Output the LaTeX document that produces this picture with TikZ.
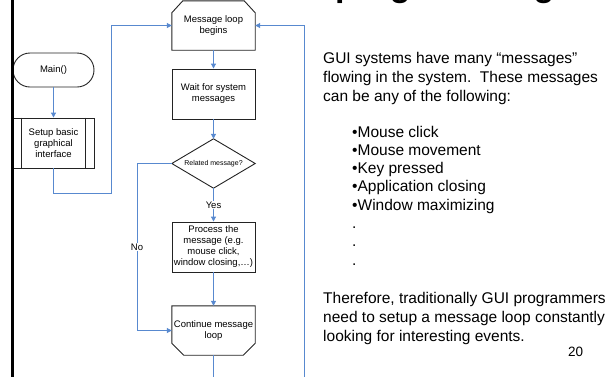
\documentclass[tikz,border=0pt]{standalone}
\usepackage{fontspec}
\setmainfont{Liberation Sans}
\usetikzlibrary{arrows.meta,calc}
\definecolor{conn}{RGB}{88,137,207}
\definecolor{edge}{RGB}{35,35,35}
\begin{document}
\begin{tikzpicture}[x=1pt,y=-1pt,
  flow/.style={inner sep=0pt, align=center, font=\fontsize{9.5}{11}\selectfont, minimum width=83pt, minimum height=49pt},
  outline/.style={draw=edge, line width=0.9pt},
  link/.style={draw=conn, line width=1pt},
  arrowlink/.style={link, -{Triangle[length=5pt,width=5pt]}},
  lbl/.style={fill=white, inner sep=1pt, font=\fontsize{9.5}{11}\selectfont},
  body/.style={anchor=base west, inner sep=0pt, font=\fontsize{15.5}{19}\selectfont}
]
\useasboundingbox (0,0) rectangle (610,376);
\clip (0,0) rectangle (610,376);

% title fragment (cut off at top)
\node[anchor=base west, inner sep=0pt, font=\fontsize{34}{40}\selectfont\bfseries] (title) at (335,-4) {programming};

% flowchart shapes
\node[flow, outline, rounded corners=17pt, minimum width=81pt, minimum height=34pt] (main) at (53.5,70) {Main()};
\node[flow, outline, minimum width=81pt, minimum height=50pt] (setup) at (53.5,143) {Setup basic\\graphical\\interface};
\draw[outline] ([xshift=9pt]setup.north west) -- ([xshift=9pt]setup.south west);
\draw[outline] ([xshift=-9pt]setup.north east) -- ([xshift=-9pt]setup.south east);

\node[flow] (loop) at (213.5,25.5) {Message loop\\begins};
\draw[outline] ([yshift=-12pt]loop.north west) -- ([xshift=11pt]loop.north west) -- ([xshift=-11pt]loop.north east) -- ([yshift=-12pt]loop.north east) -- (loop.south east) -- (loop.south west) -- cycle;

\node[flow, outline, minimum height=50pt] (wait) at (213.5,94) {Wait for system\\messages};

\node[flow, font=\fontsize{7}{8}\selectfont] (dia) at (213.5,163.5) {Related message?};
\draw[outline] (dia.north) -- (dia.east) -- (dia.south) -- (dia.west) -- cycle;

\node[flow, outline, minimum height=50pt] (proc) at (213.5,247) {Process the\\message (e.g.\\mouse click,\\window closing,…)};

\node[flow] (cont) at (213.5,330.5) {Continue message\\loop};
\draw[outline] (cont.north west) -- (cont.north east) -- ([yshift=12pt]cont.south east) -- ([xshift=-12pt]cont.south east) -- ([xshift=12pt]cont.south west) -- ([yshift=12pt]cont.south west) -- cycle;

% connectors
\coordinate (c1) at (111,193);
\coordinate (c2) at (137,330.5);
\coordinate (c4) at (304,400);
\draw[arrowlink] (main.south) -- (setup.north);
\draw[arrowlink] (setup.south) |- (c1) |- (loop.west);
\draw[arrowlink] (loop.south) -- (wait.north);
\draw[arrowlink] (wait.south) -- (dia.north);
\draw[arrowlink] (dia.south) -- node[lbl] (yes) {Yes} (proc.north);
\draw[arrowlink] (dia.west) -| (c2) -- (cont.west);
\node[lbl] (no) at (137,247) {No};
\draw[arrowlink] (proc.south) -- (cont.north);
\draw[arrowlink] (cont.south) |- (c4) |- (loop.east);

% slide margin line
\draw[line width=3pt] (12,-5) -- (12,380);

% right text
\node[body] (p1) at (323,63) {GUI systems have many “messages”};
\node[body] (p2) at (323,82) {flowing in the system.\ \ These messages};
\node[body] (p3) at (323,101) {can be any of the following:};
\node[body] (b1) at (352,137) {•Mouse click};
\node[body] (b2) at (352,155.3) {•Mouse movement};
\node[body] (b3) at (352,173.6) {•Key pressed};
\node[body] (b4) at (352,191.9) {•Application closing};
\node[body] (b5) at (352,210.2) {•Window maximizing};
\node[body] (d1) at (352,228.5) {.};
\node[body] (d2) at (352,246.8) {.};
\node[body] (d3) at (352,265.1) {.};
\node[body] (q1) at (323,303) {Therefore, traditionally GUI programmers};
\node[body] (q2) at (323,322) {need to setup a message loop constantly};
\node[body] (q3) at (323,341) {looking for interesting events.};
\node[inner sep=0pt, font=\fontsize{13.5}{16}\selectfont] (num) at (575.5,352) {20};
\end{tikzpicture}
\end{document}
